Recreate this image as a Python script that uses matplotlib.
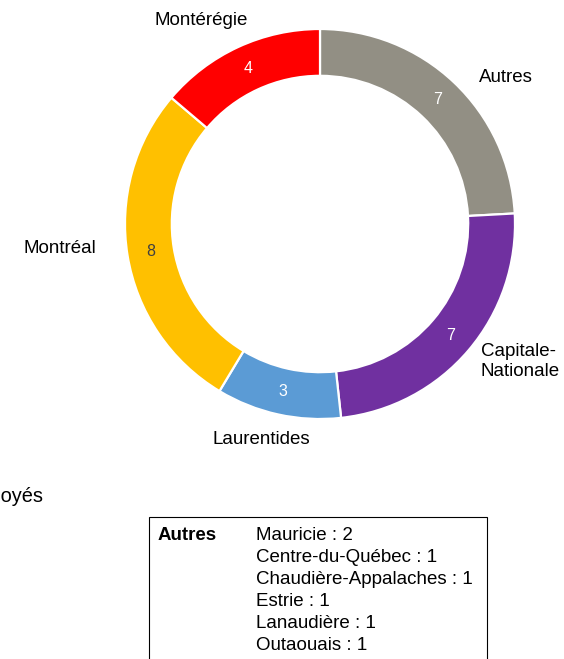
import numpy as np
import matplotlib
matplotlib.use("Agg")
import matplotlib.pyplot as plt
from matplotlib.patches import Rectangle

plt.rcParams["font.family"] = ["Liberation Sans", "DejaVu Sans"]

# =====================================================
# Data
# =====================================================
regions = ["Autres", "Capitale-\nNationale", "Laurentides", "Montréal", "Montérégie"]
counts = [7, 7, 3, 8, 4]
colors = ["#928f84", "#7030a0", "#5b9bd5", "#ffc000", "#ff0000"]
value_colors = ["white", "white", "white", "#404040", "white"]

autres_names = ["Mauricie", "Centre-du-Québec", "Chaudière-Appalaches",
                "Estrie", "Lanaudière", "Outaouais"]
autres_counts = [2, 1, 1, 1, 1, 1]

# label placement: offset (px) from outer edge at mid-angle, alignment
label_offsets = [(52, 5), (12, -11), (-17, -25), (-68, 7), (-37, 27)]
label_ha = ["center", "left", "center", "center", "center"]

# =====================================================
# Figure (data coords = pixels, y up)
# =====================================================
W, H = 564, 659
fig = plt.figure(figsize=(W / 100, H / 100), dpi=100)
ax = fig.add_axes([0, 0, 1, 1])

cx, cy, R = 320, H - 224, 195
total = sum(counts)

wedges, _, autotexts = ax.pie(
    counts,
    colors=colors,
    startangle=90,
    counterclock=False,
    center=(cx, cy),
    radius=R,
    wedgeprops=dict(width=R * 0.24, edgecolor="white", linewidth=1.6),
    autopct=lambda p: f"{round(p * total / 100)}",
    pctdistance=0.88,
    textprops=dict(fontsize=11.5),
)
for t, c in zip(autotexts, value_colors):
    t.set_color(c)

for w, name, (dx, dy), ha in zip(wedges, regions, label_offsets, label_ha):
    ang = np.deg2rad((w.theta1 + w.theta2) / 2)
    x = cx + R * np.cos(ang) + dx
    y = cy + R * np.sin(ang) + dy
    ax.text(x, y, name, ha=ha, va="center", fontsize=13.5,
            multialignment="left", color="black")

# cropped title
ax.text(43, H - 497, "Employés", ha="right", va="center", fontsize=14.4)

# =====================================================
# Detail box for "Autres"
# =====================================================
ax.add_patch(Rectangle((149, -20), 338, H - 517 + 20,
                       fill=False, edgecolor="black", linewidth=0.8))
ax.text(158, H - 535, "Autres", fontweight="bold", ha="left",
        va="center", fontsize=13.5)
for i, (n, c) in enumerate(zip(autres_names, autres_counts)):
    ax.text(256, H - 535 - 22 * i, f"{n} : {c}", ha="left",
            va="center", fontsize=13.5)

ax.set_xlim(0, W)
ax.set_ylim(0, H)
ax.set_aspect("auto")
ax.axis("off")

fig.savefig("out.png", dpi=100)
